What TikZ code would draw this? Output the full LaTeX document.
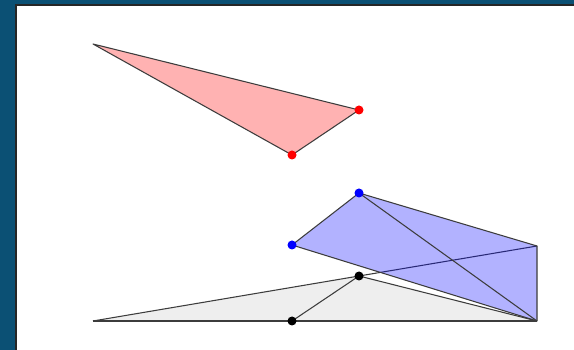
\documentclass[tikz,border=0pt]{standalone}
\usepackage{tikz}
\usetikzlibrary{positioning}
\definecolor{frameblue}{RGB}{11,80,116}
\definecolor{edgegray}{RGB}{60,60,60}
\definecolor{shadegray}{RGB}{238,238,238}

\begin{document}
\begin{tikzpicture}[x=0.02cm, y=-0.02cm,
    edge/.style={draw=edgegray, line width=0.6pt, line join=round},
    face/.style={edge, fill=#1, fill opacity=0.3},
    dot/.style={circle, fill=#1, inner sep=0pt, minimum size=0.18cm}
  ]
    \useasboundingbox (0,0) rectangle (574,350);
    \fill[frameblue] (0,0) rectangle (574,350);
    \draw[fill=white, draw=black!85, line width=0.6pt] (16,5) rectangle (576,352);

    % upper triangle
    \coordinate (r0) at (93,44);
    \coordinate (r1) at (359,110);
    \coordinate (r2) at (292,155);
    \draw[face=red] (r0)--(r1)--(r2)--cycle;

    % lower triangle
    \coordinate (g0) at (93,321);
    \coordinate (g1) at (292,321);
    \coordinate (g2) at (359,276);
    \coordinate (g3) at (537,321);
    \coordinate (g4) at (537,246);
    \fill[shadegray] (g0)--(g2)--(g3)--cycle;
    \draw[edge] (g0)--(g3);
    \draw[edge] (g0)--(g2)--(g4);
    \draw[edge] (g2)--(g3);
    \draw[edge] (g1)--(g2);

    % quadrilateral
    \coordinate (b0) at (292,245);
    \coordinate (b1) at (359,193);
    \draw[face=blue] (b0)--(b1)--(g4)--(g3)--cycle;
    \draw[edge] (b1)--(g3);

    \node[dot=red] at (r1) {};
    \node[dot=red] at (r2) {};
    \node[dot=blue] at (b0) {};
    \node[dot=blue] at (b1) {};
    \node[dot=black] at (g1) {};
    \node[dot=black] at (g2) {};
  \end{tikzpicture}
\end{document}
